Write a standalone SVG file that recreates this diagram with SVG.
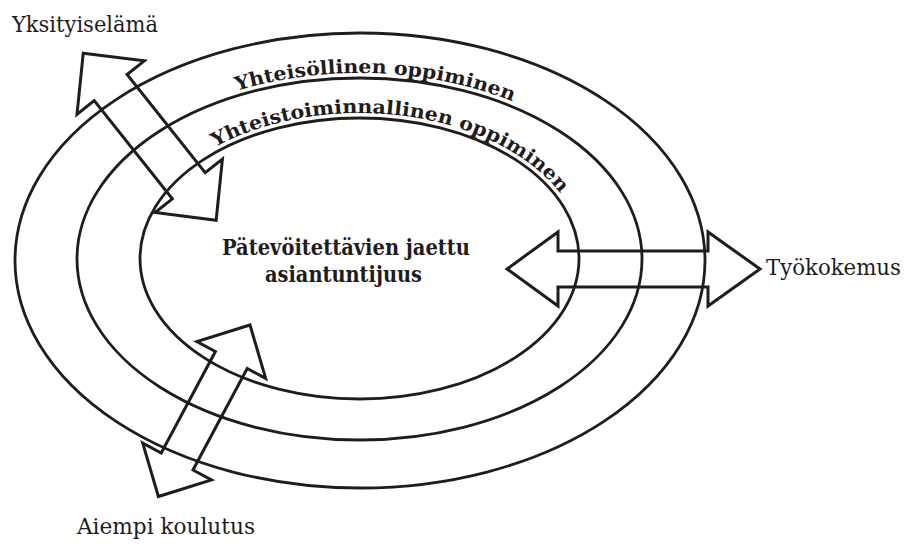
<svg xmlns="http://www.w3.org/2000/svg" width="907" height="544" viewBox="0 0 907 544">
<style>
.ring{fill:none;stroke:#1f1c1d;stroke-width:2.8}
.arrow{fill:none;stroke:#1f1c1d;stroke-width:3;stroke-linejoin:miter}
.lbl{font-family:"DejaVu Serif","Liberation Serif",serif;font-size:22.5px;fill:#1f1c1d}
.bold{font-family:"DejaVu Serif","Liberation Serif",serif;font-weight:bold;font-size:19px;fill:#1f1c1d}
</style>
<defs>
<path id="pOuter" d="M 71.5 259 A 288 186 0 0 1 647.5 259"/>
<path id="pInner" d="M 135 258.5 A 224.5 145.5 0 0 1 584 258.5"/>
</defs>
<rect width="907" height="544" fill="#ffffff"/>
<g id="rings">
<ellipse id="ring-outer" class="ring" cx="360" cy="260.5" rx="345" ry="227.5"/>
<ellipse id="ring-middle" class="ring" cx="359.5" cy="259" rx="282.5" ry="181"/>
<ellipse id="ring-inner" class="ring" cx="359.5" cy="258.5" rx="219.5" ry="140.5"/>
</g>
<g id="connectors">
<polygon id="arrow-yksityiselama" class="arrow" transform="translate(149.7 136.7) rotate(51.5)" points="-106.75,0 -62.75,-43 -62.75,-21 62.75,-21 62.75,-43 106.75,0 62.75,43 62.75,21 -62.75,21 -62.75,43"/>
<polygon id="arrow-aiempi" class="arrow" transform="translate(204.2 410.75) rotate(118.1)" points="-97.25,0 -57.5,-39 -57.5,-18 57.5,-18 57.5,-39 97.25,0 57.5,39 57.5,18 -57.5,18 -57.5,39"/>
<polygon id="arrow-tyokokemus" class="arrow" points="507,269 558,232 558,251 708,251 708,232 760,269 708,306 708,287 558,287 558,306"/>
</g>
<g id="ring-labels">
<text class="bold"><textPath href="#pOuter" startOffset="252" textLength="281" lengthAdjust="spacingAndGlyphs">Yhteisöllinen oppiminen</textPath></text>
<text class="bold"><textPath href="#pInner" startOffset="144" textLength="373" lengthAdjust="spacingAndGlyphs">Yhteistoiminnallinen oppiminen</textPath></text>
</g>
<g id="node-center">
<text class="bold" x="346" y="255" text-anchor="middle" textLength="248" lengthAdjust="spacingAndGlyphs" style="font-size:21.5px">Pätevöitettävien jaettu</text>
<text class="bold" x="343.5" y="282" text-anchor="middle" textLength="157" lengthAdjust="spacingAndGlyphs" style="font-size:21.5px">asiantuntijuus</text>
</g>
<g id="node-yksityiselama">
<text class="lbl" x="12" y="32" textLength="146" lengthAdjust="spacingAndGlyphs">Yksityiselämä</text>
</g>
<g id="node-tyokokemus">
<text class="lbl" x="766" y="275" textLength="135" lengthAdjust="spacingAndGlyphs">Työkokemus</text>
</g>
<g id="node-aiempi">
<text class="lbl" x="77" y="534" textLength="178" lengthAdjust="spacingAndGlyphs">Aiempi koulutus</text>
</g>
</svg>
